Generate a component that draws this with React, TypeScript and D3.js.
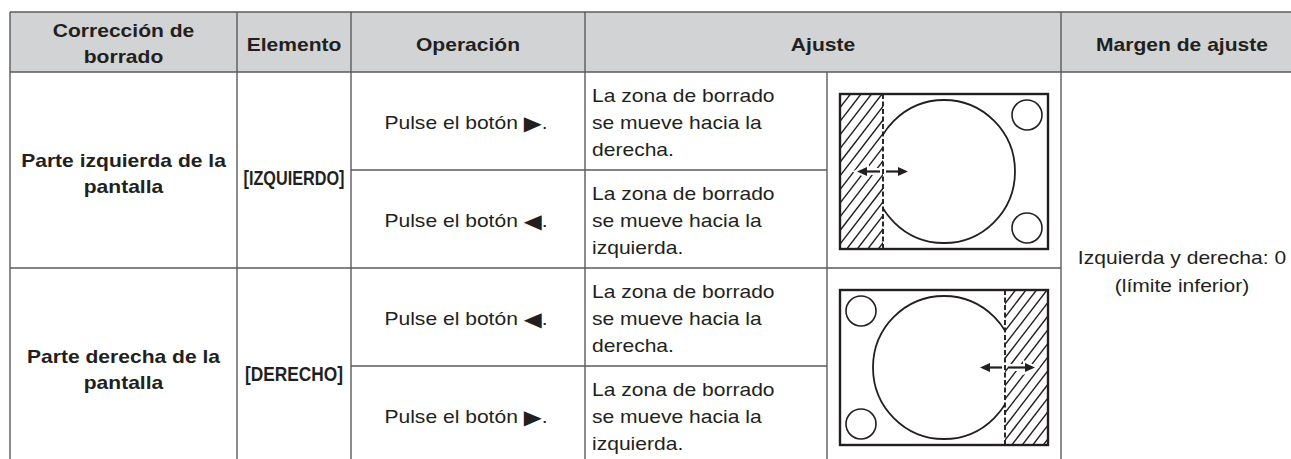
import React from "react";
import * as d3 from "d3";

const width = 1291;
const height = 459;

// table content
const headers = ["Corrección de|borrado", "Elemento", "Operación", "Ajuste", "Margen de ajuste"];
const sides = ["Parte izquierda de la|pantalla", "Parte derecha de la|pantalla"];
const items = ["[IZQUIERDO]", "[DERECHO]"];
const buttons = [["▶", "◀"], ["◀", "▶"]];
const directions = [["derecha.", "izquierda."], ["derecha.", "izquierda."]];
const rangeLines = ["Izquierda y derecha: 0", "(límite inferior)"];
const hatchSides = ["left", "right"];

// layout
const colKeys = ["side", "item", "op", "text", "fig", "range", "end"];
const colEdges = [10, 237, 351, 585, 827, 1061, 1303];
const headerTop = 12;
const bodyTop = 72;
const subRowH = 98;
const FS = 18;
const SX = 1.17;
const ink = "#231f20";
const grid = "#5b5b5d";
const font = "'Liberation Sans', Arial, sans-serif";

const xCol = d3.scaleOrdinal<string, number>().domain(colKeys).range(colEdges);
const yRow = d3.scaleLinear().domain([0, 4]).range([bodyTop, bodyTop + 4 * subRowH]);
const mid = (a: string, b: string) => (xCol(a) + xCol(b)) / 2;

function T({ x, y, anchor = "middle", bold = false, children }: any) {
  return (
    <g transform={`translate(${x},${y}) scale(${SX},1)`}>
      <text textAnchor={anchor} fontFamily={font} fontSize={FS} fontWeight={bold ? "bold" : "normal"} fill={ink}>
        {children}
      </text>
    </g>
  );
}

function Figure({ g, side }: { g: number; side: string }) {
  const x0 = 840, x1 = 1048;
  const y0 = yRow(g * 2) + 22;
  const y1 = y0 + 155;
  const cx = (x0 + x1) / 2, cy = (y0 + y1) / 2;
  const hw = 43;
  const hx0 = side === "left" ? x0 : x1 - hw;
  const hx1 = hx0 + hw;
  const edge = side === "left" ? hx1 : hx0;
  const sx = side === "left" ? x1 - 21 : x0 + 21;
  const id = `clip${g}`;
  const openId = `open${g}`;
  const slope = 1.3;
  const H = y1 - y0;
  const ts = d3.range(hx0 - H / slope, hx1 + 2, 10.5);
  const arrowY = cy;
  const aL = side === "left" ? 26 : 25;
  const aR = side === "left" ? 25 : 30;
  const arrow = (from: number, to: number) => {
    const dir = Math.sign(to - from);
    const head = `M${to},${arrowY} L${to - dir * 10},${arrowY - 4.5} L${to - dir * 10},${arrowY + 4.5} Z`;
    return (
      <g>
        <line x1={from} x2={to} y1={arrowY} y2={arrowY} stroke="#fff" strokeWidth={7} />
        <path d={head} fill="#fff" stroke="#fff" strokeWidth={4} />
        <line x1={from} x2={to - dir * 6} y1={arrowY} y2={arrowY} stroke={ink} strokeWidth={2.2} />
        <path d={head} fill={ink} />
      </g>
    );
  };
  return (
    <g>
      <defs>
        <clipPath id={id}>
          <rect x={hx0} y={y0} width={hw} height={H} />
        </clipPath>
        <clipPath id={openId}>
          <rect x={side === "left" ? hx1 : x0} y={y0} width={x1 - x0 - hw} height={H} />
        </clipPath>
      </defs>
      <rect x={x0} y={y0} width={x1 - x0} height={H} fill="#fff" />
      <g clipPath={`url(#${id})`}>
        {ts.map((t, i) => (
          <line key={i} x1={t} y1={y1} x2={t + H / slope} y2={y0} stroke={ink} strokeWidth={1.4} />
        ))}
      </g>
      <ellipse cx={cx} cy={cy} rx={71} ry={71.5} fill="none" stroke={ink} strokeWidth={1.8} clipPath={`url(#${openId})`} />
      <circle cx={sx} cy={y0 + 21} r={15} fill="none" stroke={ink} strokeWidth={1.6} />
      <circle cx={sx} cy={y1 - 21} r={15} fill="none" stroke={ink} strokeWidth={1.6} />
      <line x1={edge} x2={edge} y1={y0} y2={y1} stroke={ink} strokeWidth={1.9} strokeDasharray="5 2.5" />
      {arrow(edge - 3, edge - aL)}
      {arrow(edge + 3, edge + aR)}
      <rect x={x0} y={y0} width={x1 - x0} height={H} fill="none" stroke={ink} strokeWidth={2.4} />
    </g>
  );
}

export default function App() {
  const right = xCol("end");
  const bottom = yRow(4);
  return (
    <svg width={width} height={height} style={{ display: "block", position: "absolute", left: 0, top: 0 }}>
      <rect x={0} y={0} width={width} height={height} fill="#fff" />
      <rect x={xCol("side")} y={headerTop} width={right - xCol("side")} height={bodyTop - headerTop} fill="#d1d3d4" />

      {/* header text */}
      {headers.map((h, i) => {
        const cx = i < 3 ? mid(colKeys[i], colKeys[i + 1]) : i === 3 ? mid("text", "range") : mid("range", "end");
        const lines = h.split("|");
        const base = lines.length === 1 ? 50.5 : 37;
        return lines.map((l, j) => (
          <T key={`${i}-${j}`} x={cx} y={base + j * 26} bold>
            {l}
          </T>
        ));
      })}

      {/* body */}
      {sides.map((s, g) => {
        const top = yRow(g * 2);
        return (
          <g key={g}>
            {s.split("|").map((l, j) => (
              <T key={j} x={mid("side", "item")} y={top + 95 + j * 26} bold>
                {l}
              </T>
            ))}
            <text
              x={mid("item", "op")}
              y={top + 113}
              textAnchor="middle"
              fontFamily={font}
              fontSize={20.5}
              fontWeight="bold"
              fill={ink}
              textLength={g === 0 ? 101 : 98}
              lengthAdjust="spacingAndGlyphs"
            >
              {items[g]}
            </text>
            {buttons[g].map((b, k) => {
              const rt = yRow(g * 2 + k);
              return (
                <g key={k}>
                  <T x={mid("op", "text") - 2} y={rt + 57}>
                    {"Pulse el botón "}
                    <tspan fontFamily="'DejaVu Sans'" fontSize={20} dy={1}>{b}</tspan>
                    <tspan dy={-1}>.</tspan>
                  </T>
                  {["La zona de borrado", "se mueve hacia la", directions[g][k]].map((l, j) => (
                    <T key={j} x={xCol("text") + 7} y={rt + 30 + j * 27} anchor="start">
                      {l}
                    </T>
                  ))}
                </g>
              );
            })}
            <Figure g={g} side={hatchSides[g]} />
          </g>
        );
      })}

      {rangeLines.map((l, j) => (
        <T key={j} x={mid("range", "end")} y={264 + j * 28}>
          {l}
        </T>
      ))}

      {/* grid lines */}
      <g stroke={grid} strokeWidth={1.4} fill="none">
        <line x1={xCol("side")} x2={right} y1={headerTop} y2={headerTop} />
        <line x1={xCol("side")} x2={right} y1={bodyTop} y2={bodyTop} />
        <line x1={xCol("side")} x2={xCol("range")} y1={yRow(2)} y2={yRow(2)} />
        <line x1={xCol("side")} x2={xCol("range")} y1={bottom} y2={bottom} />
        {[1, 3].map((r) => (
          <line key={r} x1={xCol("op")} x2={xCol("fig")} y1={yRow(r)} y2={yRow(r)} />
        ))}
        {["side", "item", "op", "text", "range"].map((k) => (
          <line key={k} x1={xCol(k)} x2={xCol(k)} y1={headerTop} y2={bottom} />
        ))}
        <line x1={xCol("fig")} x2={xCol("fig")} y1={bodyTop} y2={bottom} />
      </g>
    </svg>
  );
}
